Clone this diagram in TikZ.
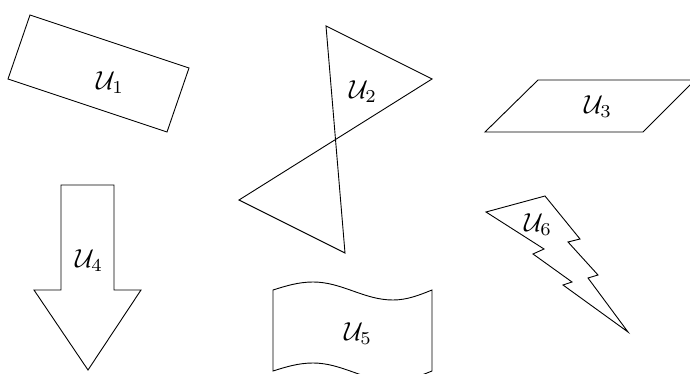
\documentclass[tikz,border=0pt]{standalone}
\begin{document}
\begin{tikzpicture}[x=1pt,y=-1pt,
  outline/.style={draw=black,line width=0.9pt,line join=miter},
  lbl/.style={inner sep=0pt,scale=2.6}]
\useasboundingbox (0,0) rectangle (690,374);
\clip (0,0) rectangle (690,374);
% U1 rotated rectangle
\draw[outline] (30,15) -- (189,68) -- (167,132) -- (8,79) -- cycle;
\node[lbl] (u1) at (110,83) {$\mathcal{U}_1$};
% U2 bow tie
\draw[outline] (326,26) -- (432,79) -- (239,200) -- (345,253) -- cycle;
\node[lbl] (u2) at (363,92) {$\mathcal{U}_2$};
% U3 parallelogram
\draw[outline] (538,80) -- (695,80) -- (643,132) -- (485,132) -- cycle;
\node[lbl] (u3) at (598,107) {$\mathcal{U}_3$};
% U4 arrow
\draw[outline] (61,185) -- (114,185) -- (114,290) -- (141,290) -- (88,370) -- (34,290) -- (61,290) -- cycle;
\node[lbl] (u4) at (89,261) {$\mathcal{U}_4$};
% U5 tape
\draw[outline] (273,290) sin (313,282) cos (353,291) sin (393,300) cos (432,290)
  -- (432,371) sin (393,381) cos (353,372) sin (313,363) cos (273,371) -- cycle;
\node[lbl] (u5) at (358,334) {$\mathcal{U}_5$};
% U6 lightning bolt
\draw[outline] (486,212) -- (545,196) -- (580,239) -- (568,242) -- (598,275) -- (588,278)
  -- (628,332) -- (563,285) -- (572,282) -- (533,254) -- (544,249) -- cycle;
\node[lbl] (u6) at (538,225) {$\mathcal{U}_6$};
\end{tikzpicture}
\end{document}
